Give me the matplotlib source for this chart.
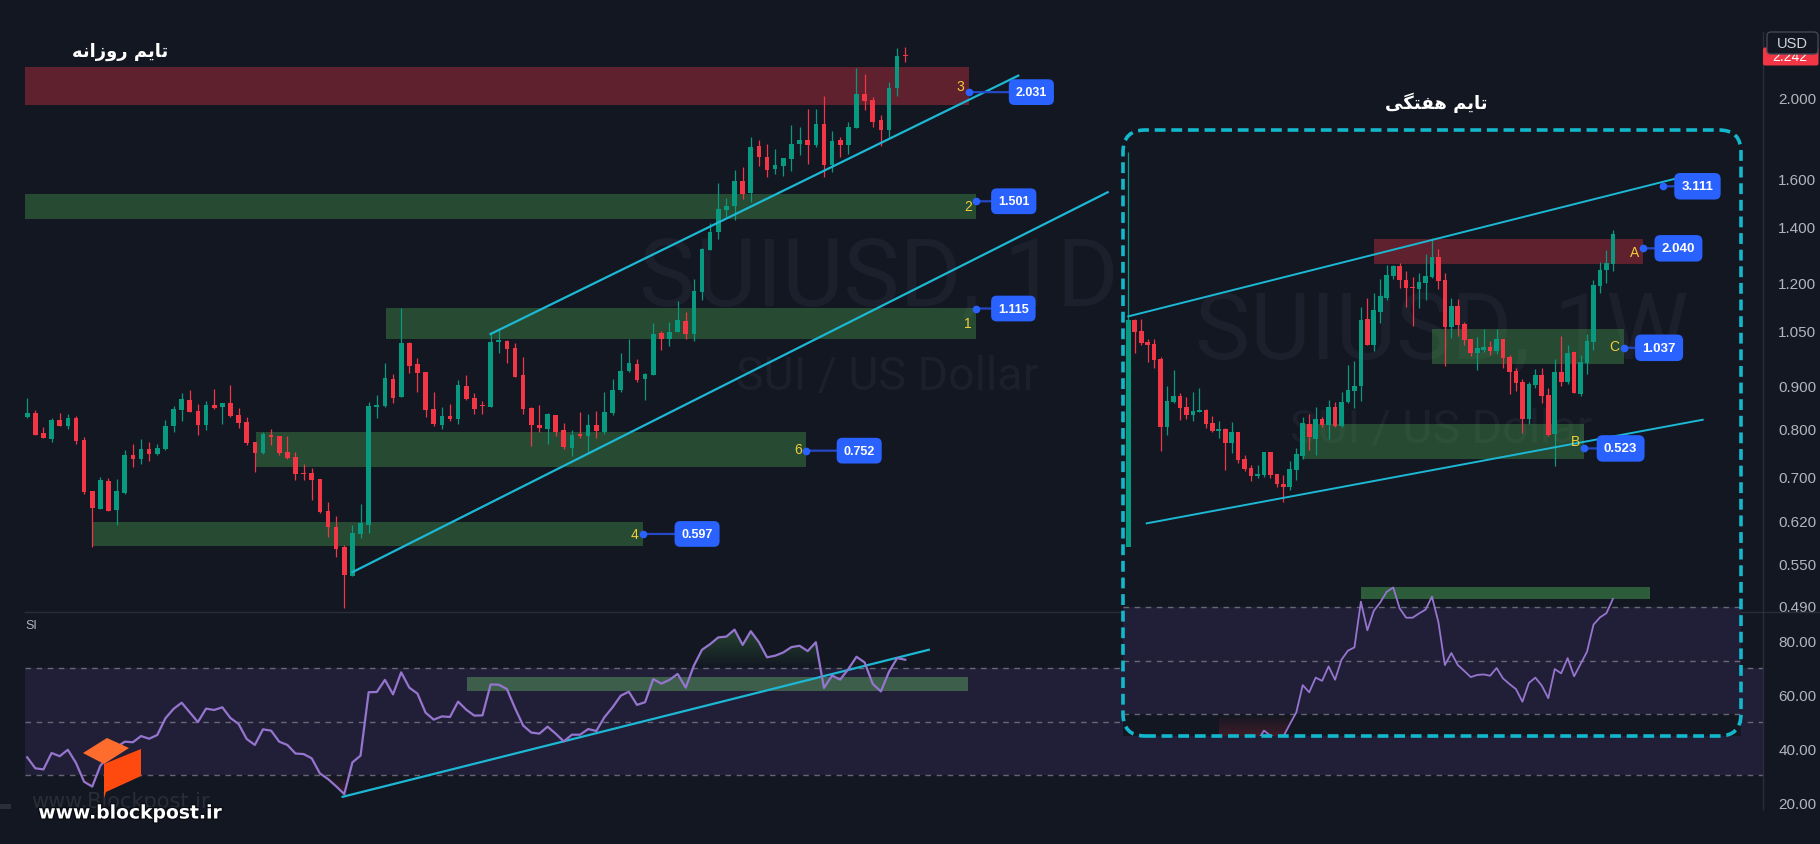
import numpy as np
import matplotlib
matplotlib.use('Agg')
import matplotlib.pyplot as plt
from matplotlib.patches import FancyBboxPatch, Polygon, Rectangle
from matplotlib.lines import Line2D
from matplotlib.path import Path
from matplotlib.ticker import NullLocator
from matplotlib.colors import to_rgb
import matplotlib.patheffects as pe

# ---------------- daily SUIUSD (1D) candles ----------------
d_open = [0.826, 0.835, 0.790, 0.777, 0.819, 0.806, 0.823, 0.774, 0.672, 0.640,
          0.691, 0.638, 0.669, 0.743, 0.735, 0.755, 0.745, 0.755, 0.805, 0.842,
          0.866, 0.839, 0.807, 0.854, 0.849, 0.858, 0.830, 0.814, 0.770, 0.747,
          0.785, 0.783, 0.749, 0.739, 0.707, 0.707, 0.695, 0.636, 0.609, 0.576,
          0.531, 0.597, 0.612, 0.849, 0.851, 0.917, 0.873, 1.013, 0.956, 0.935,
          0.844, 0.807, 0.828, 0.821, 0.899, 0.870, 0.851, 0.849, 1.017, 1.019,
          0.999, 0.927, 0.847, 0.807, 0.798, 0.830, 0.796, 0.757, 0.785, 0.783,
          0.807, 0.791, 0.835, 0.890, 0.937, 0.956, 0.916, 0.927, 1.042, 1.025,
          1.044, 1.078, 1.039, 1.167, 1.311, 1.378, 1.465, 1.481, 1.588, 1.536,
          1.750, 1.697, 1.642, 1.655, 1.688, 1.759, 1.779, 1.754, 1.859, 1.660,
          1.779, 1.754, 1.839, 2.021, 1.987, 1.880, 1.829, 2.054, 2.246]
d_high = [0.870, 0.842, 0.803, 0.823, 0.835, 0.832, 0.828, 0.781, 0.672, 0.699,
          0.697, 0.695, 0.753, 0.766, 0.777, 0.770, 0.766, 0.819, 0.851, 0.883,
          0.890, 0.856, 0.863, 0.892, 0.858, 0.902, 0.847, 0.826, 0.770, 0.792,
          0.798, 0.783, 0.783, 0.749, 0.724, 0.716, 0.695, 0.652, 0.627, 0.579,
          0.612, 0.649, 0.861, 0.878, 0.959, 0.930, 1.116, 1.016, 0.972, 0.935,
          0.885, 0.849, 0.856, 0.915, 0.927, 0.883, 0.863, 1.039, 1.056, 1.022,
          1.013, 0.974, 0.849, 0.854, 0.834, 0.830, 0.812, 0.796, 0.837, 0.832,
          0.839, 0.884, 0.917, 0.985, 1.025, 0.969, 0.932, 1.071, 1.048, 1.073,
          1.138, 1.103, 1.210, 1.319, 1.413, 1.579, 1.514, 1.637, 1.651, 1.794,
          1.779, 1.759, 1.735, 1.694, 1.854, 1.844, 1.939, 1.939, 2.010, 1.824,
          1.794, 1.870, 2.172, 2.136, 2.004, 1.906, 2.089, 2.295, 2.302]
d_low = [0.824, 0.785, 0.778, 0.771, 0.805, 0.799, 0.766, 0.666, 0.576, 0.639,
         0.636, 0.612, 0.667, 0.719, 0.724, 0.731, 0.743, 0.754, 0.792, 0.817,
         0.836, 0.785, 0.796, 0.844, 0.810, 0.826, 0.801, 0.764, 0.709, 0.745,
         0.764, 0.743, 0.735, 0.693, 0.693, 0.656, 0.633, 0.592, 0.560, 0.486,
         0.531, 0.590, 0.599, 0.823, 0.849, 0.858, 0.873, 0.933, 0.885, 0.826,
         0.805, 0.798, 0.817, 0.810, 0.866, 0.832, 0.832, 0.849, 0.985, 0.959,
         0.922, 0.832, 0.761, 0.792, 0.766, 0.783, 0.755, 0.741, 0.779, 0.747,
         0.779, 0.787, 0.829, 0.884, 0.934, 0.910, 0.866, 0.927, 0.994, 1.006,
         1.044, 1.025, 1.020, 1.142, 1.311, 1.352, 1.437, 1.425, 1.510, 1.498,
         1.655, 1.605, 1.619, 1.610, 1.632, 1.706, 1.665, 1.745, 1.605, 1.628,
         1.697, 1.711, 1.839, 1.933, 1.844, 1.749, 1.794, 2.010, 2.208]
d_close = [0.835, 0.786, 0.779, 0.819, 0.806, 0.823, 0.772, 0.671, 0.642, 0.693,
           0.637, 0.672, 0.743, 0.735, 0.755, 0.745, 0.757, 0.805, 0.844, 0.868,
           0.837, 0.807, 0.854, 0.847, 0.858, 0.828, 0.812, 0.768, 0.747, 0.787,
           0.781, 0.747, 0.737, 0.705, 0.705, 0.693, 0.635, 0.609, 0.573, 0.533,
           0.599, 0.616, 0.851, 0.854, 0.919, 0.870, 1.013, 0.951, 0.933, 0.842,
           0.810, 0.828, 0.821, 0.902, 0.868, 0.844, 0.850, 1.016, 1.019, 0.996,
           0.922, 0.844, 0.807, 0.801, 0.832, 0.792, 0.760, 0.785, 0.784, 0.807,
           0.794, 0.836, 0.890, 0.937, 0.959, 0.915, 0.930, 1.039, 1.025, 1.044,
           1.080, 1.039, 1.172, 1.315, 1.378, 1.469, 1.481, 1.588, 1.532, 1.745,
           1.697, 1.637, 1.660, 1.692, 1.759, 1.779, 1.754, 1.859, 1.660, 1.774,
           1.754, 1.844, 2.021, 1.982, 1.870, 1.829, 2.054, 2.244, 2.242]
d_rsi = [36.7, 32.6, 32.2, 38.3, 37.1, 39.5, 34.6, 27.6, 25.8, 33.6,
         37.0, 40.5, 42.5, 42.3, 44.6, 43.6, 45.0, 51.2, 54.7, 57.0,
         53.4, 49.8, 54.8, 54.3, 55.3, 51.3, 49.1, 43.5, 41.3, 47.1,
         46.6, 42.5, 41.3, 38.1, 37.9, 36.3, 30.7, 28.6, 25.9, 23.0,
         34.8, 37.3, 60.9, 61.0, 65.5, 60.1, 68.3, 62.6, 60.4, 53.3,
         50.7, 51.9, 51.7, 57.4, 54.4, 52.2, 52.3, 63.8, 63.7, 62.1,
         55.0, 48.5, 45.9, 45.5, 48.1, 45.5, 42.6, 45.1, 45.1, 47.2,
         46.5, 51.6, 55.3, 59.6, 61.1, 56.2, 57.2, 65.8, 64.1, 65.5,
         67.7, 62.6, 70.8, 76.7, 78.8, 81.3, 81.6, 84.2, 78.5, 83.6,
         79.5, 73.9, 74.5, 75.7, 77.7, 78.2, 76.2, 79.5, 62.5, 67.1,
         65.6, 69.5, 74.1, 72.0, 64.0, 61.2, 68.5, 73.6, 73.0]

# daily zones: 3, 2, 1, 6, 4
d_zone_tag = ['3', '2', '1', '6', '4']
d_zone_lo = [1.960, 1.429, 1.025, 0.719, 0.577]
d_zone_hi = [2.178, 1.532, 1.117, 0.792, 0.617]
d_zone_x0 = [-1, -1, 44.1, 28.1, 8.1]
d_zone_x1 = [115.8, 116.7, 116.7, 95.8, 75.7]
d_zone_note = [2.031, 1.501, 1.115, 0.752, 0.597]
d_zone_supply = [True, False, False, False, False]
d_note_offset = [47, 22, 22, 37.5, 38.8]   # px from dot to text

# daily trendlines (bar index, price)
d_tl_x = [[57, 121.9], [40, 132.9]]
d_tl_y = [[1.039, 2.126], [0.537, 1.539]]
d_rsi_tl_x = [38.8, 110.9]
d_rsi_tl_y = [22.0, 76.7]
d_rsi_zone = (54.1, 115.7, 61.5, 66.6)

# ---------------- weekly SUIUSD (1W) candles ----------------
w_open = [0.200, 1.252, 1.162, 1.078, 1.063, 0.961, 0.605, 0.717, 0.747, 0.693,
          0.656, 0.670, 0.678, 0.622, 0.590, 0.598, 0.542, 0.585, 0.487, 0.457,
          0.433, 0.436, 0.510, 0.439, 0.411, 0.402, 0.452, 0.498, 0.617, 0.557,
          0.639, 0.613, 0.693, 0.609, 0.717, 0.775, 0.799, 1.261, 1.056, 1.323,
          1.455, 1.694, 1.808, 1.644, 1.566, 1.547, 1.615, 1.678, 1.923, 1.644,
          1.194, 1.378, 1.219, 1.101, 1.001, 1.025, 1.041, 1.014, 1.101, 0.974,
          0.885, 0.820, 0.639, 0.804, 0.861, 0.752, 0.576, 0.879, 0.820, 1.007,
          0.757, 0.935, 1.078, 1.582, 1.760, 1.834]
w_high = [3.927, 1.261, 1.261, 1.101, 1.101, 0.974, 0.799, 0.891, 0.763, 0.742,
          0.768, 0.788, 0.683, 0.652, 0.630, 0.603, 0.626, 0.585, 0.500, 0.467,
          0.467, 0.510, 0.512, 0.441, 0.436, 0.481, 0.524, 0.648, 0.661, 0.693,
          0.648, 0.727, 0.717, 0.768, 0.922, 0.948, 1.369, 1.455, 1.505, 1.655,
          1.821, 1.821, 1.845, 1.749, 1.678, 1.724, 1.963, 2.188, 2.030, 1.724,
          1.455, 1.445, 1.237, 1.101, 1.116, 1.178, 1.086, 1.178, 1.101, 0.987,
          0.903, 0.838, 0.820, 0.897, 0.903, 0.788, 0.961, 1.124, 1.056, 1.007,
          0.987, 1.139, 1.644, 1.859, 2.017, 2.306]
w_low = [0.100, 1.003, 1.056, 0.943, 0.905, 0.515, 0.573, 0.712, 0.636, 0.639,
         0.630, 0.668, 0.600, 0.585, 0.561, 0.451, 0.507, 0.475, 0.448, 0.420,
         0.428, 0.430, 0.428, 0.402, 0.363, 0.394, 0.422, 0.487, 0.518, 0.500,
         0.605, 0.557, 0.605, 0.605, 0.712, 0.688, 0.722, 1.056, 1.014, 1.227,
         1.435, 1.655, 1.556, 1.369, 1.202, 1.360, 1.435, 1.668, 1.547, 0.916,
         1.109, 1.124, 1.056, 0.980, 0.891, 1.007, 0.987, 0.994, 0.903, 0.757,
         0.773, 0.580, 0.617, 0.788, 0.712, 0.568, 0.464, 0.799, 0.809, 0.761,
         0.747, 0.868, 1.021, 1.505, 1.611, 1.749]
w_close = [1.252, 1.157, 1.071, 1.059, 0.957, 0.605, 0.722, 0.747, 0.688, 0.656,
           0.674, 0.678, 0.617, 0.589, 0.598, 0.542, 0.585, 0.484, 0.454, 0.433,
           0.439, 0.510, 0.436, 0.411, 0.402, 0.454, 0.504, 0.622, 0.565, 0.639,
           0.613, 0.693, 0.609, 0.717, 0.778, 0.799, 1.252, 1.056, 1.340, 1.474,
           1.700, 1.808, 1.644, 1.556, 1.556, 1.625, 1.689, 1.923, 1.633, 1.194,
           1.378, 1.211, 1.094, 1.001, 1.034, 1.041, 1.014, 1.101, 0.967, 0.879,
           0.815, 0.639, 0.809, 0.861, 0.747, 0.573, 0.879, 0.820, 1.001, 0.763,
           0.941, 1.086, 1.589, 1.760, 1.845, 2.249]
w_rsi_first = 14
w_rsi = [20.5, 19.0, 20.0, 17.5, 16.5, 17.5, 20.0, 23.8, 21.9, 21.0,
         21.6, 26.2, 30.6, 40.8, 38.1, 43.6, 42.4, 47.8, 42.8, 50.3,
         53.7, 54.9, 72.0, 61.3, 68.6, 71.7, 75.7, 77.3, 69.5, 66.0,
         66.0, 67.6, 69.0, 73.9, 64.3, 48.3, 52.8, 48.3, 46.1, 43.8,
         44.6, 44.8, 44.3, 47.2, 43.3, 41.2, 39.3, 34.6, 41.6, 43.6,
         40.6, 35.9, 46.8, 45.2, 50.9, 44.1, 48.7, 53.3, 63.4, 66.1,
         67.7, 73.0]

w_zone_tag = ['A', 'C', 'B']
w_zone_lo = [1.833, 0.930, 0.4876]
w_zone_hi = [2.173, 1.178, 0.617]
w_zone_x0 = [38.0, 47.0, 26.9]
w_zone_x1 = [79.7, 76.7, 70.6]
w_zone_note = [2.040, 1.037, 0.523]
w_zone_supply = [True, False, False]
w_note_offset = [18.5, 18.5, 19.5]

w_tl_x = [[0, 86.95], [2.85, 88.9]]
w_tl_y = [[1.284, 3.359], [0.3142, 0.6357]]
w_tl_note = (82.7, 3.111)
w_rsi_zone = (36.0, 80.8, 73.0, 77.5)

price_ticks = [2.0, 1.6, 1.4, 1.2, 1.05, 0.9, 0.8, 0.7, 0.62, 0.55, 0.49]
rsi_ticks = [20, 40, 60, 80]
last_price = 2.242

title_daily = '\uFEEA\uFEE7\uFE8D\uFEAF\uFEED\uFEAD \uFEE2\uFEF3\uFE8E\uFE97'    # تایم روزانه
title_weekly = '\uFEF0\uFB95\uFE98\uFED4\uFEEB \uFEE2\uFEF3\uFE8E\uFE97'          # تایم هفتگی

# ---------------- style ----------------
BG = '#131722'
UP = '#089981'
DOWN = '#f23645'
CYAN = '#1cb8d4'
NOTE = '#2962ff'
TAG = '#f2cd3a'
AX_TXT = '#b2b5be'
SEP = '#2a2e39'
RSI_C = '#9575cd'
BAND = '#211f38'
WMARK = '#1c202c'

W, H = 1820, 845
plt.rcParams['font.family'] = ['Liberation Sans', 'DejaVu Sans']
fig = plt.figure(figsize=(W / 100, H / 100), dpi=100, facecolor=BG)


def px_rect(x0, y0, x1, y1):
    return [x0 / W, 1 - y1 / H, (x1 - x0) / W, (y1 - y0) / H]


def inch(x, y):
    return (x / 100, (H - y) / 100)


def blank(ax):
    ax.set_facecolor(BG)
    for s in ax.spines.values():
        s.set_visible(False)
    ax.set_xticks([])
    ax.set_yticks([])


def candles(ax, o, h, l, c, width):
    o, h, l, c = map(np.asarray, (o, h, l, c))
    x = np.arange(len(o))
    cols = np.where(c >= o, UP, DOWN)
    ax.vlines(x, l, h, colors=cols, lw=0.9, zorder=3)
    bot = np.minimum(o, c)
    top = np.maximum(o, c)
    ax.bar(x, np.maximum(top - bot, top * 0.004), width, bottom=bot,
           color=cols, lw=0, zorder=4)


def zone(ax, x0, x1, lo, hi, supply):
    col = DOWN if supply else '#4caf50'
    ax.add_patch(Rectangle((x0, lo), x1 - x0, hi - lo, fc=col,
                           alpha=0.34 if supply else 0.35, lw=0, zorder=1))


def note(ax, x, val, off_px, fs=9):
    ax.annotate(f'{val:.3f}', xy=(x, val), xytext=(off_px * 0.72, 0),
                textcoords='offset points', ha='left', va='center',
                color='white', fontsize=fs, fontweight='bold', zorder=9,
                bbox=dict(boxstyle='round,pad=0.55,rounding_size=0.45', fc=NOTE, ec='none'),
                arrowprops=dict(arrowstyle='-', color='#2548c4', lw=1.6,
                                shrinkA=0, shrinkB=0))
    ax.plot([x], [val], 'o', ms=4.5, color=NOTE, zorder=10)


def tag(ax, x, y, s):
    ax.annotate(s, xy=(x, y), xytext=(-3, 0), textcoords='offset points',
                ha='right', va='center', color=TAG, fontsize=10, zorder=9)


def grad_fill(ax, x, y, level, far, color, amax):
    x = np.asarray(x, float)
    y = np.asarray(y, float)
    above = far > level
    where = y >= level if above else y <= level
    coll = ax.fill_between(x, y, level, where=where, interpolate=True,
                           facecolor='none', edgecolor='none')
    paths = coll.get_paths()
    if not paths:
        return
    path = Path.make_compound_path(*paths)
    r, g, b = to_rgb(color)
    n = 256
    img = np.zeros((n, 1, 4))
    img[..., 0], img[..., 1], img[..., 2] = r, g, b
    a = np.linspace(0, amax, n)
    img[..., 3] = (a if above else a[::-1])[:, None]
    lo, hi = (level, far) if above else (far, level)
    im = ax.imshow(img, extent=[x.min(), x.max(), lo, hi], origin='lower',
                   aspect='auto', zorder=2, interpolation='bilinear')
    im.set_clip_path(path, ax.transData)


def rsi_pane(ax):
    ax.axhspan(30, 70, color=BAND, lw=0, zorder=0.5)
    for v in (70, 50, 30):
        ax.axhline(v, color='#787b86', lw=1, ls=(0, (4, 4)), alpha=0.8, zorder=0.8)


# ================= daily price pane =================
ax_d = fig.add_axes(px_rect(25, 0, 1763, 613))
blank(ax_d)
ax_d.set_yscale('log')
ax_d.text(879 / W, 1 - 305 / H, 'SUIUSD, 1D', transform=fig.transFigure,
          ha='center', va='baseline', fontsize=68, color=WMARK, family='Roboto', zorder=0.5)
ax_d.text(887 / W, 1 - 390 / H, 'SUI / US Dollar', transform=fig.transFigure,
          ha='center', va='baseline', fontsize=33.5, color=WMARK, family='Roboto', zorder=0.5)
for k in range(len(d_zone_tag)):
    zone(ax_d, d_zone_x0[k], d_zone_x1[k], d_zone_lo[k], d_zone_hi[k], d_zone_supply[k])
candles(ax_d, d_open, d_high, d_low, d_close, 0.57)
for xs, ys in zip(d_tl_x, d_tl_y):
    ax_d.plot(xs, ys, color=CYAN, lw=1.6, zorder=5)
for k in range(len(d_zone_tag)):
    note(ax_d, d_zone_x1[k], d_zone_note[k], d_note_offset[k])
    tag(ax_d, d_zone_x1[k], np.sqrt(d_zone_lo[k] * d_zone_hi[k]), d_zone_tag[k])
ax_d.set_xlim(-0.27, 213.5)
ax_d.set_ylim(0.4809, 2.629)
ax_d.yaxis.tick_right()
ax_d.set_yticks(price_ticks, [f'{v:.3f}' for v in price_ticks])
ax_d.yaxis.set_minor_locator(NullLocator())
ax_d.tick_params(axis='y', length=0, pad=11, labelcolor=AX_TXT, labelsize=11)

# ================= daily RSI pane =================
ax_r = fig.add_axes(px_rect(25, 613, 1763, 810))
blank(ax_r)
rsi_pane(ax_r)
xr = np.arange(len(d_rsi))
grad_fill(ax_r, xr, d_rsi, 70, 92, '#4caf50', 0.45)
grad_fill(ax_r, xr, d_rsi, 30, 10, DOWN, 0.5)
x0, x1, r0, r1 = d_rsi_zone
ax_r.add_patch(Rectangle((x0, r0), x1 - x0, r1 - r0, fc='#3c5e4b', lw=0, zorder=1))
ax_r.plot(d_rsi_tl_x, d_rsi_tl_y, color=CYAN, lw=1.6, zorder=3)
ax_r.plot(xr, d_rsi, color=RSI_C, lw=1.6, zorder=4)
ax_r.set_xlim(-0.27, 213.5)
ax_r.set_ylim(17.46, 90.75)
ax_r.yaxis.tick_right()
ax_r.set_yticks(rsi_ticks, [f'{v:.2f}' for v in rsi_ticks])
ax_r.tick_params(axis='y', length=0, pad=11, labelcolor=AX_TXT, labelsize=11)

# ================= weekly inset: price =================
ax_w = fig.add_axes(px_rect(1123, 131, 1741, 548))
blank(ax_w)
ax_w.set_zorder(5)
ax_w.set_yscale('log')
ax_w.spines['bottom'].set_visible(True)
ax_w.spines['bottom'].set_color(SEP)
ax_w.text(1442 / W, 1 - 360 / H, 'SUIUSD, 1W', transform=fig.transFigure,
          ha='center', va='baseline', fontsize=67, color=WMARK, family='Roboto', zorder=0.5)
ax_w.text(1441 / W, 1 - 443 / H, 'SUI / US Dollar', transform=fig.transFigure,
          ha='center', va='baseline', fontsize=33.5, color=WMARK, family='Roboto', zorder=0.5)
for k in range(len(w_zone_tag)):
    zone(ax_w, w_zone_x0[k], w_zone_x1[k], w_zone_lo[k], w_zone_hi[k], w_zone_supply[k])
candles(ax_w, w_open, w_high, w_low, w_close, 0.72)
for xs, ys in zip(w_tl_x, w_tl_y):
    ax_w.plot(xs, ys, color=CYAN, lw=1.4, zorder=5)
note(ax_w, w_tl_note[0], w_tl_note[1], 18.9, fs=9.5)
for k in range(len(w_zone_tag)):
    note(ax_w, w_zone_x1[k], w_zone_note[k], w_note_offset[k], fs=9.5)
    tag(ax_w, w_zone_x1[k], np.sqrt(w_zone_lo[k] * w_zone_hi[k]), w_zone_tag[k])
ax_w.set_xlim(-0.82, 94.83)
ax_w.set_ylim(0.2675, 4.562)
ax_w.yaxis.set_minor_locator(NullLocator())
ax_w.set_yticks([])

# ================= weekly inset: RSI =================
ax_wr = fig.add_axes(px_rect(1123, 548, 1741, 737))
blank(ax_wr)
ax_wr.set_zorder(5)
rsi_pane(ax_wr)
xw = np.arange(w_rsi_first, w_rsi_first + len(w_rsi))
grad_fill(ax_wr, xw, w_rsi, 30, 5, DOWN, 0.6)
x0, x1, r0, r1 = w_rsi_zone
ax_wr.add_patch(Rectangle((x0, r0), x1 - x0, r1 - r0, fc='#2d5c3a', lw=0, zorder=1))
ax_wr.plot(xw, w_rsi, color=RSI_C, lw=1.3, zorder=4)
ax_wr.set_xlim(-0.82, 94.83)
ax_wr.set_ylim(21.78, 92.43)

# ================= frame, axis lines, labels =================
fig.add_artist(Line2D([25 / W, 1], [1 - 613 / H] * 2, color=SEP, lw=1, zorder=2))
fig.add_artist(Line2D([1763 / W] * 2, [1 - 33 / H, 1 - 810 / H], color=SEP, lw=1, zorder=2))
fig.add_artist(Rectangle(inch(0, 810), 0.11, 0.05, transform=fig.dpi_scale_trans,
                         fc='#2a2e39', lw=0, zorder=2))

fig.add_artist(FancyBboxPatch(inch(1123, 737), 6.18, 6.06,
                              boxstyle='round,pad=0,rounding_size=0.22',
                              transform=fig.dpi_scale_trans, fill=False,
                              ec='#13b8cc', lw=2.6, ls=(0, (3.0, 1.6)), zorder=6))

# current price tag and currency box
y_last = 98.7 - np.log(last_price / 2.0) * 360.8
fig.add_artist(FancyBboxPatch(inch(1763, y_last + 9), 0.555, 0.18,
                              boxstyle='round,pad=0,rounding_size=0.02',
                              transform=fig.dpi_scale_trans, fc=DOWN, ec='none', zorder=8))
fig.text(1790 / W, 1 - y_last / H, f'{last_price:.3f}', ha='center', va='center',
         color='white', fontsize=10, zorder=8.5)
fig.add_artist(FancyBboxPatch(inch(1767, 55), 0.51, 0.22,
                              boxstyle='round,pad=0,rounding_size=0.04',
                              transform=fig.dpi_scale_trans, fc=BG, ec='#434651',
                              lw=1, zorder=9))
fig.text(1792 / W, 1 - 44 / H, 'USD', ha='center', va='center', color='#d1d4dc',
         fontsize=10.5, zorder=9.5)

fig.text(25 / W, 1 - 626 / H, 'SI', ha='left', va='center', color=AX_TXT, fontsize=9)

# titles
fig.text(120 / W, 1 - 52 / H, title_daily, ha='center', va='center', color='white',
         fontsize=13, fontweight='bold', family=['DejaVu Sans'], zorder=7)
fig.text(1436 / W, 1 - 103 / H, title_weekly, ha='center', va='center', color='white',
         fontsize=13, fontweight='bold', family=['DejaVu Sans'], zorder=7)

# blockpost logo + site text
fig.text(120 / W, 1 - 802 / H, 'www.Blockpost.ir', ha='center', va='center',
         color='#2a2d36', fontsize=15, family=['DejaVu Sans'], zorder=6.5)
fig.add_artist(Polygon([inch(104, 765), inch(141, 750), inch(141, 777), inch(106, 793),
                        inch(104, 799)], closed=True, transform=fig.dpi_scale_trans,
                       fc='#ff4a0f', ec='none', zorder=7))
fig.add_artist(Polygon([inch(83, 754), inch(107, 739), inch(129, 749), inch(104, 765)],
                       closed=True, transform=fig.dpi_scale_trans,
                       fc='#ff6d2e', ec='none', zorder=7))
fig.text(130 / W, 1 - 814 / H, 'www.blockpost.ir', ha='center', va='center',
         color='white', fontsize=13.5, fontweight='bold', family=['DejaVu Sans'], zorder=7,
         path_effects=[pe.withStroke(linewidth=2, foreground='#0b0d12')])

fig.savefig('out.png', dpi=100, facecolor=BG)
